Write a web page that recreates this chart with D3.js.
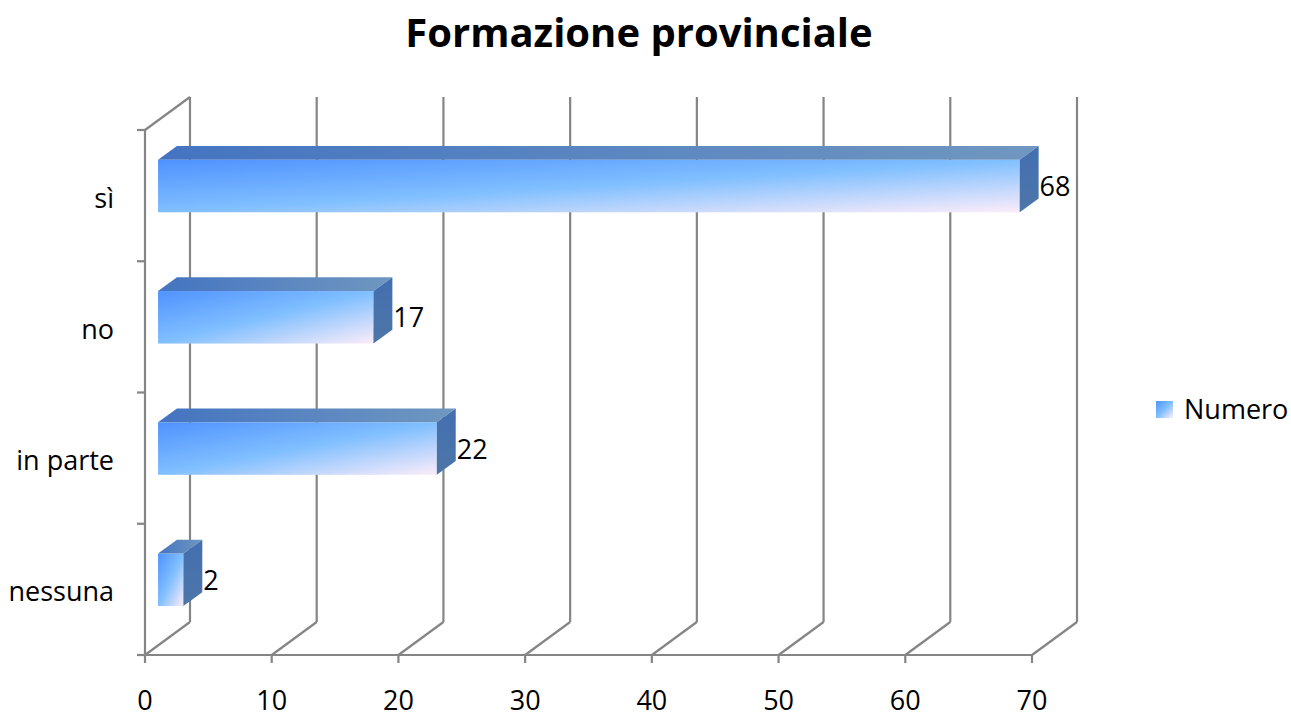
<!DOCTYPE html>
<html>
<head>
<meta charset="utf-8">
<script src="https://cdn.jsdelivr.net/npm/d3@7"></script>
<style>
    body { margin: 0; background: #fff; }
    text { font-family: "Open Sans", sans-serif; fill: #000; }
</style>
</head>
<body>
<div id="chart"></div>
<script>
(() => {
const chartTitle = 'Formazione provinciale';
const seriesName = 'Numero';
const categories = ['sì', 'no', 'in parte', 'nessuna'];
const values = [68, 17, 22, 2];
const xTicks = [0, 10, 20, 30, 40, 50, 60, 70];

const width = 1291;
const height = 718;

// 3d depth of the plot box and where the bars sit inside it
const depth = { dx: 45, dy: -33 };
const barFront = 0.29;
const barBack = 0.71;
const barSize = 0.4;

const svg = d3.select('#chart')
    .append('svg')
    .attr('width', width)
    .attr('height', height);

const defs = svg.append('defs');

const front = defs.append('linearGradient')
    .attr('id', 'front-grad')
    .attr('x1', 0).attr('y1', 0).attr('x2', 1).attr('y2', 1);
front.append('stop').attr('offset', 0).attr('stop-color', '#4f92ff');
front.append('stop').attr('offset', 0.5).attr('stop-color', '#80bfff');
front.append('stop').attr('offset', 1).attr('stop-color', '#fcedfa');

const topGrad = defs.append('linearGradient')
    .attr('id', 'top-grad')
    .attr('x1', 0).attr('y1', 0).attr('x2', 1).attr('y2', 0);
topGrad.append('stop').attr('offset', 0).attr('stop-color', '#4474c1');
topGrad.append('stop').attr('offset', 1).attr('stop-color', '#7097c0');

const sideGrad = defs.append('linearGradient')
    .attr('id', 'side-grad')
    .attr('x1', 0).attr('y1', 0).attr('x2', 0).attr('y2', 1);
sideGrad.append('stop').attr('offset', 0).attr('stop-color', '#436fb0');
sideGrad.append('stop').attr('offset', 1).attr('stop-color', '#4d76a8');

const x = d3.scaleLinear().domain([0, 70]).range([145, 1032]);
const y = d3.scaleBand().domain(categories).range([130, 655]);

const yTop = y.range()[0];
const yBottom = y.range()[1];
const x0 = x(0);

const grid = svg.append('g')
    .attr('stroke', '#858585')
    .attr('stroke-width', 2.2)
    .attr('fill', 'none');

// back wall verticals
grid.selectAll('line.back')
    .data(xTicks)
    .enter()
    .append('line')
    .attr('x1', d => x(d) + depth.dx)
    .attr('x2', d => x(d) + depth.dx)
    .attr('y1', yTop + depth.dy)
    .attr('y2', yBottom + depth.dy);

// floor diagonals
grid.selectAll('line.floor')
    .data(xTicks)
    .enter()
    .append('line')
    .attr('x1', d => x(d))
    .attr('x2', d => x(d) + depth.dx)
    .attr('y1', yBottom)
    .attr('y2', yBottom + depth.dy);

// front axis + ticks
grid.append('line')
    .attr('x1', x0 - 8).attr('x2', x(70))
    .attr('y1', yBottom).attr('y2', yBottom);
grid.selectAll('line.tick')
    .data(xTicks)
    .enter()
    .append('line')
    .attr('x1', d => x(d))
    .attr('x2', d => x(d))
    .attr('y1', yBottom)
    .attr('y2', yBottom + 8);

// left wall
grid.append('line')
    .attr('x1', x0).attr('x2', x0)
    .attr('y1', yTop).attr('y2', yBottom);
grid.append('line')
    .attr('x1', x0).attr('x2', x0 + depth.dx)
    .attr('y1', yTop).attr('y2', yTop + depth.dy);
const catEdges = categories.map(c => y(c)).concat([yBottom]);
grid.selectAll('line.ytick')
    .data(catEdges)
    .enter()
    .append('line')
    .attr('x1', x0 - 8).attr('x2', x0)
    .attr('y1', d => d).attr('y2', d => d);

// bars
const ox = depth.dx * barFront;
const oy = depth.dy * barFront;
const bx = depth.dx * (barBack - barFront);
const by = depth.dy * (barBack - barFront);
const barH = y.bandwidth() * barSize;

const data = categories.map((c, i) => ({ cat: c, value: values[i] }));

const bars = svg.selectAll('g.bar')
    .data(data)
    .enter()
    .append('g')
    .attr('class', 'bar');

const geo = d => {
    const mid = y(d.cat) + y.bandwidth() / 2;
    const l = x(0) + ox;
    const r = x(d.value) + ox;
    const t = mid - barH / 2 + oy;
    return { l, r, t, b: t + barH, mid };
};

bars.append('rect')
    .attr('x', d => geo(d).l)
    .attr('y', d => geo(d).t)
    .attr('width', d => geo(d).r - geo(d).l)
    .attr('height', barH)
    .attr('fill', 'url(#front-grad)');

bars.append('path')
    .attr('d', d => {
        const g = geo(d);
        return `M${g.l},${g.t}L${g.l + bx},${g.t + by}L${g.r + bx},${g.t + by}L${g.r},${g.t}Z`;
    })
    .attr('fill', 'url(#top-grad)');

bars.append('path')
    .attr('d', d => {
        const g = geo(d);
        return `M${g.r},${g.t}L${g.r + bx},${g.t + by}L${g.r + bx},${g.b + by}L${g.r},${g.b}Z`;
    })
    .attr('fill', 'url(#side-grad)');

bars.append('text')
    .attr('x', d => geo(d).r + bx + 1)
    .attr('y', d => (geo(d).t + geo(d).b) / 2 + 10)
    .style('font-size', '27px')
    .text(d => d.value);

// category labels
svg.selectAll('text.cat')
    .data(categories)
    .enter()
    .append('text')
    .attr('x', 114)
    .attr('y', d => y(d) + y.bandwidth() / 2 + 12)
    .attr('text-anchor', 'end')
    .style('font-size', '27px')
    .text(d => d);

// x tick labels
svg.selectAll('text.xtick')
    .data(xTicks)
    .enter()
    .append('text')
    .attr('x', d => x(d))
    .attr('y', 710)
    .attr('text-anchor', 'middle')
    .style('font-size', '27px')
    .text(d => d);

// title
svg.append('text')
    .attr('x', 639)
    .attr('y', 47)
    .attr('text-anchor', 'middle')
    .style('font-size', '40px')
    .style('font-weight', 'bold')
    .text(chartTitle);

// legend
svg.append('rect')
    .attr('x', 1156).attr('y', 401)
    .attr('width', 17).attr('height', 17)
    .attr('fill', 'url(#front-grad)');
svg.append('text')
    .attr('x', 1184)
    .attr('y', 419)
    .style('font-size', '27px')
    .text(seriesName);
})();
</script>
</body>
</html>
